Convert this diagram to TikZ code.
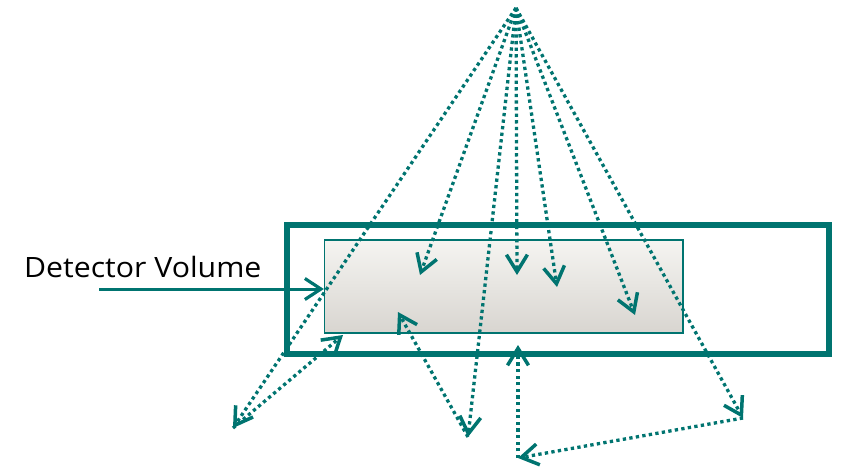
\documentclass[tikz,border=0pt]{standalone}
\usepackage{fontspec}
\newfontfamily\labelfont[FakeStretch=1.08]{Open Sans}
\usetikzlibrary{arrows.meta}

\definecolor{detteal}{RGB}{0,116,112}
\definecolor{boxtop}{RGB}{245,244,241}
\definecolor{boxbottom}{RGB}{216,213,208}

\tikzset{
	ray/.style={detteal, line width=3.3pt, dash pattern=on 3.3pt off 3.3pt,
		-{Straight Barb[length=17pt,width=21pt,line width=3.5pt]}},
	pointer/.style={detteal, line width=3pt,
		-{Straight Barb[length=16pt,width=21pt,line width=3.2pt]}},
	volume/.style={draw=detteal, line width=1.4pt, top color=boxtop, bottom color=boxbottom,
		inner sep=0pt, minimum width=358.5pt, minimum height=93pt},
	frame/.style={draw=detteal, line width=6pt, inner sep=0pt,
		minimum width=542.5pt, minimum height=129pt}
}

\begin{document}
\begin{tikzpicture}[x=1pt, y=-1pt]
	\useasboundingbox (0,0) rectangle (843,466);

	% Detector
	\node[volume] (vol) at (503.75,286.5) {};
	\node[frame] (outer) at (557.75,289.5) {};

	% Label
	\node[anchor=base west, inner sep=0pt, font=\labelfont\fontsize{28}{30}\selectfont] (lbl) at (24,277) {Detector Volume};
	\coordinate (ptr) at (99,289);
	\draw[pointer] (ptr) -- ([yshift=-2.5pt]vol.west);

	% Source and hits
	\coordinate (src) at (516,8);
	\coordinate (h1) at (233,428);
	\coordinate (h2) at (420,275);
	\coordinate (h3) at (468,437);
	\coordinate (h4) at (517,275);
	\coordinate (h5) at (557,287);
	\coordinate (h6) at (635,315);
	\coordinate (h7) at (743,418);

	% Scattered
	\coordinate (r1) at (343,335);
	\coordinate (r3) at (398,312);
	\coordinate (r7) at (518,458);
	\coordinate (r8) at (518,345);

	% Primary rays
	\foreach \h in {h1,h2,h3,h4,h5,h6,h7}
		\draw[ray] (src) -- (\h);

	% Secondary rays
	\draw[ray] (h1) -- (r1);
	\draw[ray] (h3) -- (r3);
	\draw[ray] (h7) -- (r7);
	\draw[ray] (r7) -- (r8);
\end{tikzpicture}
\end{document}
